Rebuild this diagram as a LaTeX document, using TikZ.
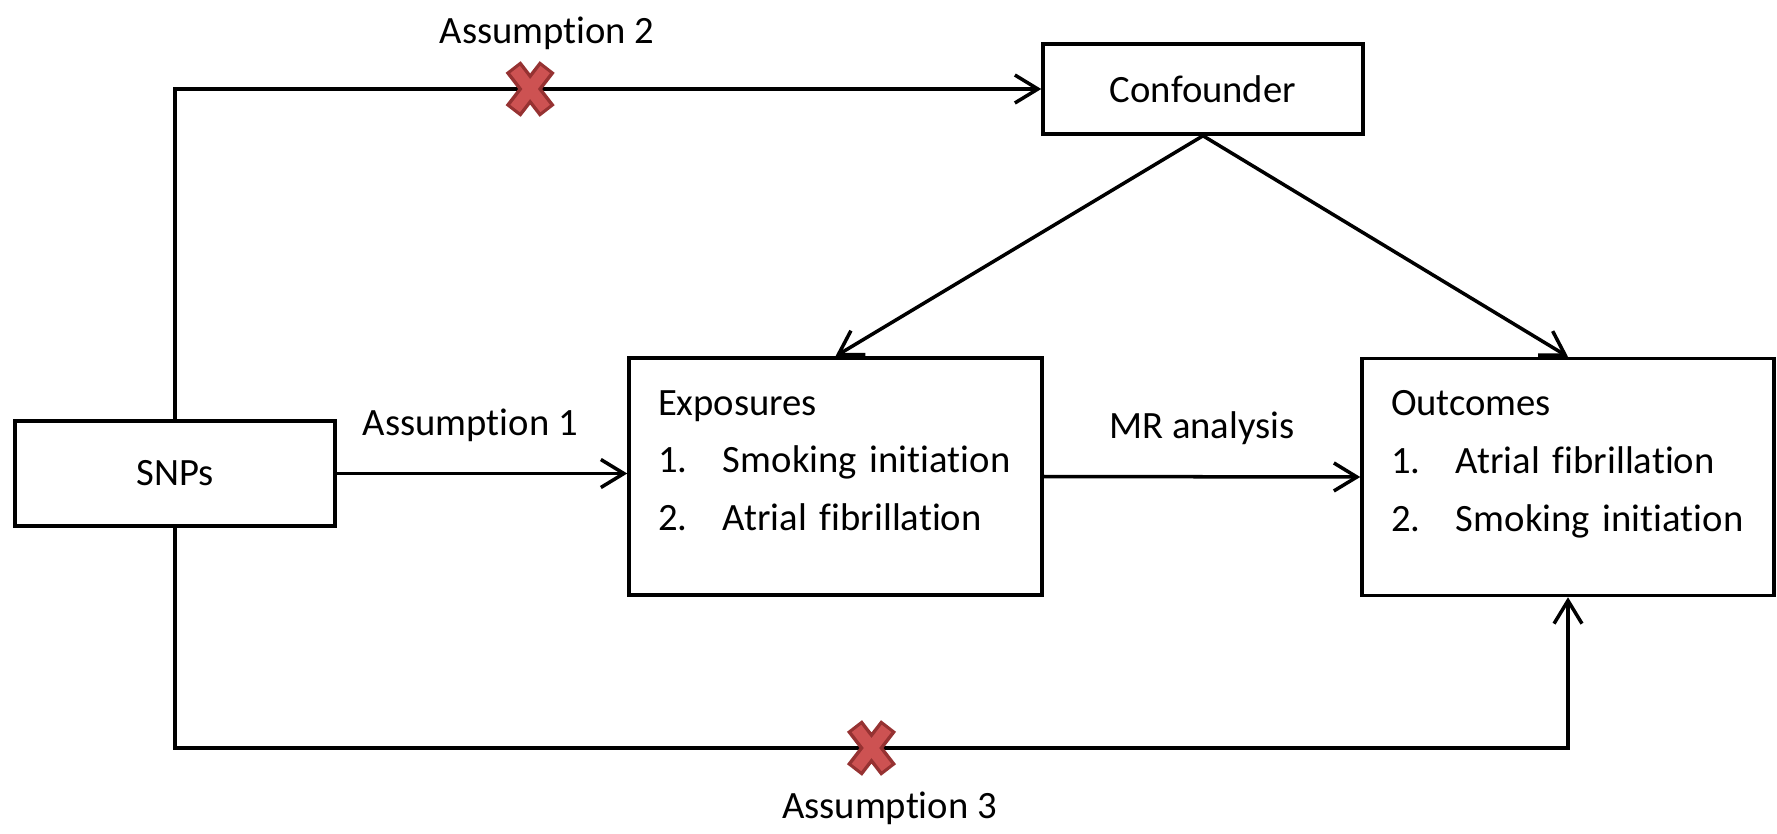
\documentclass[tikz,border=0pt]{standalone}
\usepackage{fontspec}
\setmainfont{Carlito}[Ligatures=NoCommon]
\usepackage{tikz}
\usetikzlibrary{arrows.meta,calc}
\definecolor{crossDark}{RGB}{150,50,50}
\definecolor{crossRed}{RGB}{205,82,82}
\hyphenpenalty=10000

\begin{document}
\begin{tikzpicture}[
  font=\fontsize{11}{13.2}\selectfont,
  box/.style={draw, line width=1pt, minimum width=3.2cm, align=center},
  listbox/.style={draw, line width=1pt, minimum height=2.37cm,
                  text width=3.55cm, inner xsep=0.29cm, align=left,
                  text height=0.3cm, text depth=1.53cm,
                  font=\fontsize{11}{16.5}\selectfont},
  arr/.style={line width=1pt, -{Straight Barb[length=2.3mm,width=2.8mm]}},
  lbl/.style={anchor=base},
  nogo/.pic={
    \draw[crossDark, line width=0.19cm] (-0.17,-0.22) -- (0.17,0.22) (-0.17,0.22) -- (0.17,-0.22);
    \draw[crossRed, line width=0.12cm] (-0.15,-0.195) -- (0.15,0.195) (-0.15,0.195) -- (0.15,-0.195);
  }
]
  \useasboundingbox (0,0) rectangle (17.77,8.33);

  \node[box, minimum height=1.05cm] (snps) at (1.75,3.595) {SNPs};
  \node[box, minimum height=0.90cm] (conf) at (12.03,7.44) {Confounder};
  \node[listbox] (expo) at (8.355,3.565)
        {Exposures\\\makebox[0.65cm][l]{1.}Smoking initiation\\\makebox[0.65cm][l]{2.}Atrial fibrillation};
  \node[listbox, text width=3.54cm] (outc) at (15.68,3.56)
        {Outcomes\\\makebox[0.65cm][l]{1.}Atrial fibrillation\\\makebox[0.65cm][l]{2.}Smoking initiation};
  \coordinate (low) at (1.75,0.85);

  % assumption 1 and MR analysis
  \draw[arr] (snps.east) -- (snps.east -| expo.west)
        node[lbl, pos=0.46, yshift=0.38cm] (a1) {Assumption 1};
  \draw[arr] (expo.east) -- (outc.west)
        node[lbl, midway, yshift=0.38cm] (mr) {MR analysis};

  % assumption 2
  \draw[arr] (snps.north) |- (conf.west);
  \coordinate (x2) at ($(snps.north |- conf.west)!0.41!(conf.west)$);
  \pic at (x2) {nogo};
  \node[lbl] (a2) at ($(x2)+(0.17,0.46)$) {Assumption 2};

  % assumption 3
  \draw[arr] (snps.south) -- (snps.south |- low) -| (outc.south);
  \coordinate (x3) at ($(low)!0.5!(low -| outc.south)$);
  \pic at (x3) {nogo};
  \node[lbl] (a3) at ($(x3)+(0.18,-0.70)$) {Assumption 3};

  \draw[arr] (conf.south) -- (expo.north);
  \draw[arr] (conf.south) -- (outc.north);
\end{tikzpicture}
\end{document}
